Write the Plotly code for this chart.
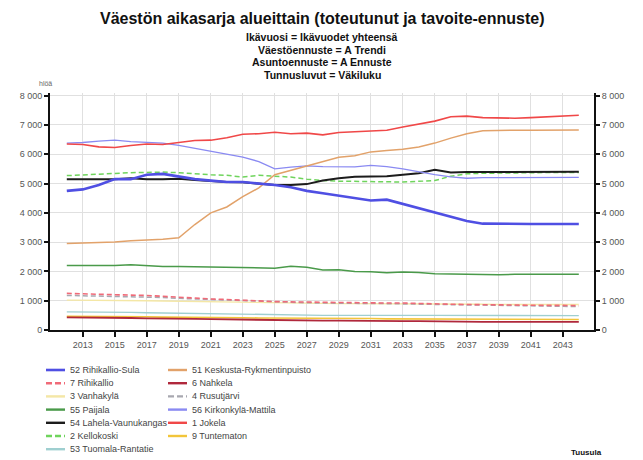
import plotly.graph_objects as go

# Years on the x axis
years = [2012, 2013, 2014, 2015, 2016, 2017, 2018, 2019, 2020, 2021, 2022,
         2023, 2024, 2025, 2026, 2027, 2028, 2029, 2030, 2031, 2032, 2033,
         2034, 2035, 2036, 2037, 2038, 2039, 2040, 2041, 2042, 2043, 2044]

# Population per area, 2012-2044
rihikallio_sula = [4750, 4800, 4950, 5150, 5150, 5300, 5330, 5250, 5150, 5100, 5050,
                   5050, 5000, 4950, 4870, 4750, 4670, 4580, 4500, 4420, 4450, 4300,
                   4150, 4000, 3850, 3720, 3630, 3620, 3620, 3620, 3620, 3620, 3620]
rihikallio = [1250, 1230, 1220, 1200, 1190, 1180, 1150, 1100, 1080, 1060, 1040,
              1010, 980, 970, 960, 950, 950, 940, 940, 930, 920, 920,
              900, 890, 880, 870, 860, 860, 850, 850, 840, 840, 830]
vanhakyla = [1020, 1020, 1010, 1010, 1000, 1000, 990, 980, 970, 960, 950,
             940, 930, 920, 920, 910, 910, 900, 900, 900, 890, 890,
             890, 880, 880, 880, 880, 870, 870, 870, 870, 870, 870]
paijala = [2200, 2200, 2200, 2200, 2230, 2190, 2170, 2170, 2160, 2130, 2130,
           2110, 2110, 2110, 2180, 2140, 2050, 2060, 2000, 1990, 1950, 1980,
           1960, 1920, 1910, 1900, 1900, 1890, 1900, 1900, 1900, 1900, 1900]
lahela_vaunukangas = [5150, 5150, 5150, 5150, 5180, 5150, 5150, 5160, 5120, 5080, 5050,
                      5040, 5000, 4950, 4950, 4980, 5100, 5180, 5230, 5250, 5250, 5300,
                      5350, 5470, 5380, 5390, 5390, 5400, 5400, 5400, 5400, 5400, 5400]
kellokoski = [5270, 5300, 5330, 5350, 5370, 5380, 5390, 5370, 5330, 5300, 5280,
              5220, 5280, 5260, 5220, 5150, 5100, 5080, 5080, 5060, 5060, 5050,
              5080, 5100, 5250, 5330, 5350, 5360, 5370, 5370, 5380, 5380, 5380]
tuomala_rantatie = [620, 620, 620, 620, 600, 590, 580, 570, 560, 550, 540,
                    530, 525, 520, 515, 510, 500, 500, 495, 490, 490, 500,
                    500, 500, 500, 495, 495, 495, 490, 490, 490, 490, 490]
keskusta_rykmentinpuisto = [2950, 2970, 3000, 3000, 3050, 3070, 3100, 3150, 3600, 4000, 4200,
                            4550, 4850, 5300, 5450, 5600, 5750, 5900, 5950, 6080, 6130, 6170,
                            6250, 6380, 6550, 6700, 6800, 6820, 6820, 6820, 6830, 6830, 6830]
nahkela = [430, 430, 420, 420, 410, 400, 400, 390, 380, 370, 360,
           350, 350, 340, 330, 330, 320, 320, 310, 310, 300, 300,
           300, 290, 290, 290, 280, 280, 280, 280, 280, 280, 280]
rusutjarvi = [1180, 1170, 1160, 1150, 1140, 1130, 1110, 1080, 1060, 1040, 1020,
              1000, 970, 950, 940, 930, 920, 920, 910, 900, 900, 890,
              880, 870, 860, 850, 840, 830, 830, 820, 820, 810, 800]
kirkonkyla_mattila = [6380, 6400, 6450, 6480, 6430, 6400, 6380, 6300, 6200, 6080, 6000,
                      5900, 5750, 5500, 5560, 5600, 5580, 5580, 5570, 5620, 5580, 5500,
                      5400, 5300, 5230, 5180, 5200, 5200, 5200, 5200, 5210, 5210, 5210]
jokela = [6350, 6330, 6250, 6230, 6300, 6350, 6330, 6400, 6470, 6480, 6560,
          6680, 6700, 6750, 6700, 6720, 6660, 6740, 6770, 6800, 6820, 6930,
          7030, 7130, 7280, 7300, 7250, 7230, 7230, 7250, 7280, 7300, 7330]
tuntematon = [470, 470, 460, 460, 450, 450, 440, 440, 430, 430, 420,
              420, 410, 410, 400, 400, 400, 390, 390, 390, 380, 380,
              380, 380, 370, 370, 370, 370, 360, 360, 360, 360, 360]

# Axis ticks
y_ticks = [0, 1000, 2000, 3000, 4000, 5000, 6000, 7000, 8000]
x_ticks = [2013, 2015, 2017, 2019, 2021, 2023, 2025, 2027, 2029, 2031,
           2033, 2035, 2037, 2039, 2041, 2043]

# (name, values, colour, width, dashed?)
series = [
    ("52 Rihikallio-Sula", rihikallio_sula, "#4f4fe3", 2.6, False),
    ("7 Rihikallio", rihikallio, "#f06a78", 1.6, True),
    ("3 Vanhakylä", vanhakyla, "#f4e7a6", 1.4, False),
    ("55 Paijala", paijala, "#4a9a4a", 1.5, False),
    ("54 Lahela-Vaunukangas", lahela_vaunukangas, "#1c1c1c", 2.0, False),
    ("2 Kellokoski", kellokoski, "#6fd45c", 1.5, True),
    ("53 Tuomala-Rantatie", tuomala_rantatie, "#9fcfd0", 1.4, False),
    ("51 Keskusta-Rykmentinpuisto", keskusta_rykmentinpuisto, "#e2a26a", 1.5, False),
    ("6 Nahkela", nahkela, "#b0283c", 1.8, False),
    ("4 Rusutjärvi", rusutjarvi, "#a8a8b0", 1.5, True),
    ("56 Kirkonkylä-Mattila", kirkonkyla_mattila, "#8a8af2", 1.3, False),
    ("1 Jokela", jokela, "#f04848", 1.6, False),
    ("9 Tuntematon", tuntematon, "#f2c53a", 1.6, False),
]

# Draw order: faint lines first, bold ones on top
draw_order = [2, 6, 12, 8, 9, 1, 3, 5, 4, 10, 7, 11, 0]

# Plot area in pixels (fixed margins)
W, H = 643, 460
L, R, T, B = 50, 49, 93, 130
PW, PH = W - L - R, H - T - B


def px_x(x):
    return (x - L) / PW


def px_y(y):
    return (H - B - y) / PH


fig = go.Figure()
for i in draw_order:
    name, vals, col, w, dashed = series[i]
    fig.add_trace(go.Scatter(
        x=years, y=vals, mode="lines", name=name,
        line=dict(color=col, width=w, dash="5px,3px" if dashed else "solid"),
        showlegend=False, hoverinfo="skip",
    ))

# Carrier trace so the mirrored right-hand axis is drawn
fig.add_trace(go.Scatter(
    x=years, y=jokela, mode="lines", yaxis="y2", showlegend=False,
    line=dict(color="rgba(0,0,0,0)", width=0), hoverinfo="skip",
))

tick_text = [f"{v:,}".replace(",", " ") for v in y_ticks]
y_range = [0, 8090]
axis_font = dict(family="Liberation Sans, Arial, sans-serif", size=9, color="#555555")

fig.update_layout(
    width=W, height=H,
    margin=dict(l=L, r=R, t=T, b=B, autoexpand=False),
    paper_bgcolor="white", plot_bgcolor="white",
    font=dict(family="Liberation Sans, Arial, sans-serif", color="#222222"),
    showlegend=False,
    xaxis=dict(
        range=[2010.95, 2044.95], tickvals=x_ticks, ticktext=[str(t) for t in x_ticks],
        tickangle=0,
        showgrid=True, gridcolor="#e0e0e0", gridwidth=1,
        showline=True, linecolor="#111111", linewidth=2,
        ticks="outside", ticklen=5, tickcolor="#111111", tickwidth=1.5,
        tickfont=axis_font, zeroline=False,
    ),
    yaxis=dict(
        range=y_range, tickvals=y_ticks, ticktext=tick_text,
        showgrid=True, gridcolor="#e0e0e0", gridwidth=1,
        showline=True, linecolor="#111111", linewidth=2,
        ticks="outside", ticklen=4, tickcolor="#111111", tickwidth=1.5,
        tickfont=axis_font, zeroline=False,
    ),
    yaxis2=dict(
        range=y_range, tickvals=y_ticks, ticktext=tick_text, overlaying="y", side="right",
        showgrid=False, showline=True, linecolor="#111111", linewidth=2,
        ticks="outside", ticklen=4, tickcolor="#111111", tickwidth=1.5,
        tickfont=axis_font, zeroline=False,
    ),
)

# Title block
header_lines = [
    ("<b>Väestön aikasarja alueittain (toteutunut ja tavoite-ennuste)</b>", 18, 16),
    ("<b>Ikävuosi = Ikävuodet yhteensä</b>", 37, 10.5),
    ("<b>Väestöennuste = A Trendi</b>", 50, 10.5),
    ("<b>Asuntoennuste = A Ennuste</b>", 62, 10.5),
    ("<b>Tunnusluvut = Väkiluku</b>", 75, 10.5),
]
for txt, ypix, size in header_lines:
    fig.add_annotation(
        text=txt, xref="paper", yref="paper",
        x=px_x(322), y=px_y(ypix),
        xanchor="center", yanchor="middle", showarrow=False,
        font=dict(size=size, color="#111111"),
    )

fig.add_annotation(
    text="hlöä", xref="paper", yref="paper", x=px_x(45), y=px_y(83),
    xanchor="center", yanchor="middle", showarrow=False,
    font=dict(size=7, color="#666666"),
)
fig.add_annotation(
    text="<b>Tuusula</b>", xref="paper", yref="paper", x=px_x(604),
    y=px_y(452), xanchor="right", yanchor="middle", showarrow=False,
    font=dict(size=8, color="#111111"),
)

# Two-column key below the chart
col_x = [46, 168]
row_y0, row_step = 370, 13.2
for i, (name, vals, col, w, dashed) in enumerate(series):
    c, r = (0, i) if i < 7 else (1, i - 7)
    x0 = col_x[c]
    y = row_y0 + r * row_step
    fig.add_shape(
        type="line", xref="paper", yref="paper",
        x0=px_x(x0), x1=px_x(x0 + 19), y0=px_y(y), y1=px_y(y),
        line=dict(color=col, width=max(w, 2.4), dash="6px,3px" if dashed else "solid"),
    )
    fig.add_annotation(
        text=name, xref="paper", yref="paper", x=px_x(x0 + 22), y=px_y(y),
        xanchor="left", yanchor="middle", showarrow=False,
        font=dict(size=9, color="#444444"),
    )

fig.write_html("out.html")
